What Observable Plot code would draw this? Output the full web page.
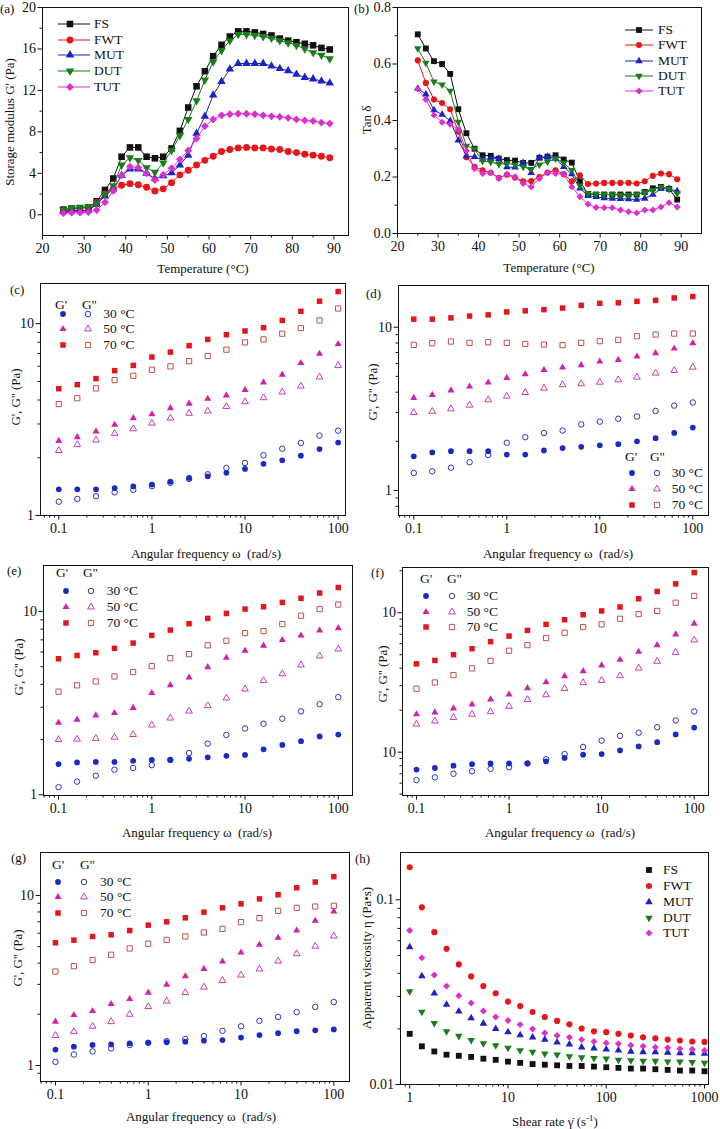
<!DOCTYPE html>
<html><head><meta charset="utf-8">
<script src="https://cdn.jsdelivr.net/npm/d3@7"></script>
<script src="https://cdn.jsdelivr.net/npm/@observablehq/plot@0.6"></script>
<style>
body{margin:0;background:#fff;}
#fig{position:relative;width:720px;height:1129px;overflow:hidden;background:#fff;}
</style></head><body><div id="fig"></div>
<script>
// ---------------- DATA ----------------
const samples = ["FS", "FWT", "MUT", "DUT", "TUT"];
const temperature = [25,27,29,31,33,35,37,39,41,43,45,47,49,51,53,55,57,59,61,63,65,67,69,71,73,75,77,79,81,83,85,87,89];
const modFS  = [0.5,0.6,0.65,0.7,1.3,2.4,3.5,5.6,6.5,6.5,5.6,5.45,5.6,6.4,8.1,10.35,12.4,13.85,15.3,16.4,17.2,17.7,17.7,17.6,17.45,17.3,17.0,16.8,16.65,16.5,16.35,16.1,15.95];
const modFWT = [0.3,0.35,0.35,0.4,1.2,2.0,2.5,2.85,3.0,2.9,2.65,2.3,2.5,3.1,3.85,4.3,4.8,5.25,5.65,6.1,6.3,6.45,6.5,6.45,6.45,6.35,6.3,6.1,6.0,5.85,5.75,5.65,5.5];
const modMUT = [0.35,0.4,0.4,0.4,1.0,1.8,2.5,3.8,4.4,4.4,4.0,3.5,3.75,4.05,4.8,5.75,7.85,9.5,11.55,12.85,14.05,14.6,14.6,14.6,14.6,14.35,14.1,13.9,13.55,13.25,13.1,12.9,12.7];
const modDUT = [0.5,0.65,0.7,0.8,1.05,2.0,2.8,4.8,5.5,5.25,4.55,4.1,5.0,6.2,7.65,9.2,11.0,13.0,14.75,15.85,16.8,17.4,17.4,17.3,17.2,17.05,16.8,16.6,16.35,16.0,15.65,15.4,15.05];
const modTUT = [0.15,0.2,0.2,0.25,0.45,1.2,2.3,3.8,4.65,4.55,4.0,3.35,3.85,4.5,5.35,6.2,7.35,8.55,9.2,9.6,9.7,9.75,9.75,9.7,9.6,9.5,9.45,9.35,9.2,9.1,9.05,8.9,8.8];

const tanFS  = [0.705,0.655,0.61,0.6,0.565,0.44,0.355,0.3,0.277,0.275,0.265,0.26,0.258,0.25,0.25,0.268,0.272,0.277,0.262,0.251,0.185,0.14,0.138,0.138,0.138,0.138,0.138,0.138,0.147,0.16,0.165,0.158,0.12];
const tanFWT = [0.613,0.533,0.474,0.462,0.44,0.36,0.27,0.236,0.224,0.215,0.197,0.208,0.198,0.185,0.186,0.2,0.216,0.224,0.21,0.185,0.206,0.175,0.177,0.179,0.179,0.179,0.179,0.177,0.185,0.204,0.212,0.21,0.192];
const tanMUT = [0.513,0.493,0.437,0.421,0.399,0.33,0.274,0.271,0.262,0.265,0.265,0.235,0.234,0.25,0.215,0.269,0.271,0.265,0.236,0.21,0.16,0.133,0.13,0.125,0.124,0.123,0.122,0.12,0.124,0.138,0.158,0.158,0.15];
const tanDUT = [0.655,0.604,0.537,0.527,0.505,0.395,0.31,0.299,0.257,0.253,0.245,0.248,0.244,0.236,0.228,0.244,0.254,0.265,0.25,0.224,0.169,0.142,0.139,0.138,0.138,0.136,0.136,0.138,0.145,0.153,0.165,0.157,0.142];
const tanTUT = [0.511,0.474,0.419,0.394,0.387,0.368,0.293,0.23,0.212,0.215,0.195,0.21,0.2,0.177,0.165,0.195,0.215,0.212,0.21,0.165,0.13,0.104,0.092,0.091,0.091,0.083,0.077,0.073,0.083,0.083,0.094,0.109,0.094];

const frequency = [0.1,0.158,0.251,0.398,0.631,1,1.58,2.51,3.98,6.31,10,15.8,25.1,39.8,63.1,100];
const temps3 = ["30 °C", "50 °C", "70 °C"];
// (c)
const cG1_30 = [1.37,1.37,1.37,1.39,1.42,1.45,1.50,1.57,1.60,1.67,1.75,1.86,1.94,2.05,2.22,2.40];
const cG2_30 = [1.18,1.22,1.26,1.32,1.36,1.42,1.48,1.55,1.64,1.77,1.88,2.06,2.23,2.39,2.61,2.77];
const cG1_50 = [2.45,2.56,2.74,2.97,3.22,3.37,3.63,3.83,4.06,4.23,4.51,4.94,5.42,6.24,6.97,7.83];
const cG2_50 = [2.18,2.34,2.47,2.68,2.83,3.03,3.22,3.41,3.50,3.70,3.92,4.11,4.40,4.73,5.27,6.04];
const cG1_70 = [4.58,4.81,5.17,5.69,6.06,6.70,7.11,7.68,8.28,8.76,9.16,9.53,10.4,11.6,13.1,14.7];
const cG2_70 = [3.81,4.09,4.60,5.08,5.35,5.75,5.99,6.38,6.78,7.32,7.99,8.28,8.87,9.49,10.4,12.0];
// (d)
const dG1_30 = [1.62,1.71,1.74,1.74,1.74,1.66,1.66,1.76,1.82,1.85,1.89,1.92,2.00,2.09,2.25,2.43];
const dG2_30 = [1.28,1.31,1.38,1.49,1.65,1.96,2.12,2.25,2.33,2.54,2.64,2.75,2.84,3.07,3.31,3.46];
const dG1_50 = [3.69,3.85,4.10,4.33,4.58,4.89,5.15,5.48,5.66,5.85,6.16,6.31,6.61,6.93,7.40,7.98];
const dG2_50 = [3.00,3.05,3.16,3.33,3.59,3.78,3.98,4.23,4.44,4.50,4.60,4.76,4.94,5.23,5.43,5.69];
const dG1_70 = [11.2,11.2,11.4,11.7,11.9,12.4,12.6,12.8,13.1,13.6,14.0,14.1,14.4,14.6,15.1,15.4];
const dG2_70 = [7.79,7.98,8.17,8.02,8.09,8.02,7.90,7.83,7.76,8.02,8.21,8.36,8.81,9.02,9.14,9.14];
// (e)
const eG1_30 = [1.47,1.50,1.51,1.51,1.53,1.55,1.55,1.57,1.60,1.63,1.65,1.77,1.87,1.96,2.08,2.13];
const eG2_30 = [1.10,1.18,1.27,1.37,1.40,1.45,1.55,1.69,1.90,2.12,2.30,2.44,2.60,2.85,3.12,3.41];
const eG1_50 = [2.47,2.57,2.71,2.79,2.98,3.59,3.96,4.36,4.97,5.59,6.10,6.50,6.98,7.39,7.88,8.11];
const eG2_50 = [2.00,2.01,2.03,2.06,2.13,2.40,2.62,2.86,3.06,3.37,3.77,4.19,4.57,5.10,5.71,6.23];
const eG1_70 = [5.52,5.75,5.95,6.29,6.72,7.40,7.91,8.57,9.16,9.75,10.3,10.6,11.2,11.8,12.6,13.5];
const eG2_70 = [3.65,3.95,4.15,4.42,4.67,5.03,5.56,5.85,6.53,6.92,7.62,7.81,8.53,9.47,10.3,10.9];
// (f)
const fG1_30 = [0.75,0.77,0.80,0.82,0.83,0.83,0.83,0.86,0.91,0.96,0.97,1.03,1.10,1.18,1.34,1.50];
const fG2_30 = [0.63,0.66,0.70,0.73,0.76,0.78,0.83,0.89,0.97,1.09,1.21,1.31,1.38,1.51,1.69,1.96];
const fG1_50 = [1.87,1.93,2.06,2.20,2.39,2.59,2.88,3.18,3.51,3.81,4.19,4.60,5.25,5.86,6.99,8.34];
const fG2_50 = [1.59,1.67,1.77,1.87,1.95,2.13,2.38,2.58,2.86,3.15,3.27,3.53,4.01,4.48,5.19,6.37];
const fG1_70 = [4.30,4.55,5.00,5.52,6.20,6.80,7.47,8.25,8.91,9.68,10.3,11.0,12.6,14.2,16.1,19.4];
const fG2_70 = [2.85,3.16,3.57,3.99,4.52,5.34,5.86,6.58,7.18,7.89,8.25,9.05,9.78,10.3,11.8,13.2];
// (g)
const gG1_30 = [1.24,1.29,1.32,1.33,1.35,1.36,1.37,1.38,1.40,1.41,1.46,1.51,1.55,1.59,1.61,1.63];
const gG2_30 = [1.05,1.16,1.21,1.26,1.32,1.36,1.39,1.43,1.49,1.60,1.70,1.83,1.93,2.06,2.21,2.36];
const gG1_50 = [1.81,1.98,2.09,2.30,2.46,2.68,2.99,3.35,3.70,4.09,4.62,5.13,5.64,6.22,7.10,8.05];
const gG2_50 = [1.50,1.58,1.70,1.81,2.00,2.22,2.39,2.68,2.89,3.16,3.40,3.69,4.11,4.54,5.03,5.77];
const gG1_70 = [5.27,5.46,5.74,5.87,6.22,6.69,7.00,7.39,7.98,8.46,8.93,9.55,10.1,11.1,12.0,12.9];
const gG2_70 = [3.57,3.84,4.17,4.48,4.88,5.20,5.48,5.74,6.06,6.36,6.97,7.36,8.12,8.46,8.61,8.69];
// (h)
const shearRate = [1,1.33,1.78,2.37,3.16,4.22,5.62,7.5,10,13.3,17.8,23.7,31.6,42.2,56.2,75,100,133,178,237,316,422,562,750,1000];
const viscFS  = [0.0188,0.0161,0.0151,0.0145,0.0143,0.0141,0.0138,0.0136,0.0133,0.0131,0.0129,0.0128,0.0127,0.0126,0.0126,0.0125,0.0124,0.0123,0.0122,0.0122,0.0121,0.0120,0.0119,0.0119,0.0118];
const viscFWT = [0.150,0.0912,0.0668,0.0543,0.0447,0.0385,0.0341,0.0312,0.0281,0.0266,0.0247,0.0232,0.0221,0.0212,0.0201,0.0194,0.0192,0.0188,0.0184,0.0180,0.0178,0.0175,0.0173,0.0171,0.0170];
const viscMUT = [0.0554,0.0386,0.0312,0.0271,0.0249,0.0229,0.0214,0.0200,0.0192,0.0185,0.0180,0.0175,0.0169,0.0165,0.0159,0.0157,0.0155,0.0153,0.0151,0.0150,0.0150,0.0149,0.0148,0.0148,0.0147];
const viscDUT = [0.0319,0.0247,0.0215,0.0194,0.0183,0.0174,0.0167,0.0163,0.0158,0.0153,0.0150,0.0147,0.0145,0.0142,0.0140,0.0139,0.0138,0.0136,0.0135,0.0134,0.0134,0.0133,0.0133,0.0132,0.0131];
const viscTUT = [0.0682,0.0485,0.0392,0.0341,0.0302,0.0276,0.0250,0.0232,0.0222,0.0211,0.0200,0.0190,0.0184,0.0180,0.0175,0.0171,0.0168,0.0166,0.0163,0.0161,0.0159,0.0158,0.0156,0.0155,0.0153];

// tick values / labels
const tempTicks = [20,30,40,50,60,70,80,90];
const tempMinor = [25,35,45,55,65,75,85];
const modLinTicks = [0,4,8,12,16,20];
const modLinMinor = [2,6,10,14,18];
const tanTicks = [0,0.2,0.4,0.6,0.8];
const tanTickLabels = ["0.0","0.2","0.4","0.6","0.8"];
const tanMinor = [0.1,0.3,0.5,0.7];
const freqTicks = [0.1,1,10,100];
const freqTickLabels = ["0.1","1","10","100"];
const modLogTicks = [1,10];
const modLogTickLabels = ["1","10"];
const fModLogTickLabels = ["10","10"];
const shearTicks = [1,10,100,1000];
const shearTickLabels = ["1","10","100","1000"];
const viscTicks = [0.01,0.1];
const viscTickLabels = ["0.01","0.1"];

// ---------------- STYLE ----------------
const serif = '"Liberation Serif","Times New Roman",Times,serif';
const sampleColors = ["#111111","#e8161b","#1c23c2","#197d19","#dc2fd0"];
const sampleSymbols = ["square","circle","triangle","triangleDown","diamond"];
const tempColors = ["#1a2bc4","#cf21b0","#e3161c"];
const tempOpenColors = ["#2a35b8","#c43fb0","#c0504d"];
const tempSymbols = ["circle","triangle","square"];

const s3 = Math.sqrt(3);
const triangleDown = {draw(ctx, size){ const y = -Math.sqrt(size/(3*s3)); ctx.moveTo(0, -2*y); ctx.lineTo(-s3*y, y); ctx.lineTo(s3*y, y); ctx.closePath(); }};
const SYM = {square: d3.symbolSquare, circle: d3.symbolCircle, triangle: d3.symbolTriangle, triangleDown, diamond: d3.symbolDiamond2};
const symR = {square: 1, circle: 0.93, triangle: 0.85, triangleDown: 0.85, diamond: 0.95};

const fig = document.getElementById("fig");

function txt(html, x, y, o = {}) {
  const d = document.createElement("div");
  d.innerHTML = html;
  const size = o.size || 13;
  d.style.cssText = `position:absolute;left:${x}px;top:${y}px;font-size:${size}px;line-height:1;white-space:nowrap;font-family:${serif};color:#111;`;
  const ax = o.anchor === "middle" ? "-50%" : o.anchor === "end" ? "-100%" : "0";
  d.style.transform = o.rotate ? "translate(-50%,-50%) rotate(-90deg)" : `translate(${ax},-50%)`;
  fig.appendChild(d);
}

function legendSym(x, y, shape, r, fill, stroke, line) {
  const area = Math.PI * r * r;
  const d = d3.symbol(SYM[shape], area)();
  let inner = "";
  if (line) inner += `<line x1="${line[0] - x}" x2="${line[1] - x}" y1="0" y2="0" stroke="${line[2]}" stroke-width="1"/>`;
  inner += `<path d="${d}" fill="${fill}" stroke="${stroke}" stroke-width="1"/>`;
  const svg = document.createElementNS("http://www.w3.org/2000/svg", "svg");
  svg.setAttribute("width", 1); svg.setAttribute("height", 1);
  svg.style.cssText = `position:absolute;left:${x}px;top:${y}px;overflow:visible`;
  svg.innerHTML = inner;
  fig.appendChild(svg);
}

function minorLog(lo, hi) {
  const out = [];
  for (let e = -3; e <= 3; e++) for (let k = 2; k <= 9; k++) {
    const v = +(k * Math.pow(10, e)).toPrecision(2);
    if (v > lo && v < hi) out.push(v);
  }
  return out;
}

function panel(cfg) {
  const {box, frame, x, y, marks} = cfg;
  const fmt = (vals, labels) => labels ? (d => labels[vals.indexOf(d)] ?? "") : (d => String(d));
  const plot = Plot.plot({
    width: box.w, height: box.h,
    marginLeft: frame.l - box.x, marginRight: box.x + box.w - frame.r,
    marginTop: frame.t - box.y, marginBottom: box.y + box.h - frame.b,
    style: {fontFamily: serif, fontSize: "14px", color: "#111", background: "none", overflow: "visible"},
    x: {type: x.type, domain: x.domain},
    y: {type: y.type, domain: y.domain},
    marks: [
      Plot.axisX({ticks: x.minor, tickSize: 2.5, tickFormat: () => "", label: null}),
      Plot.axisX({ticks: x.major, tickSize: 4.5, tickPadding: 3, tickFormat: fmt(x.major, x.labels), label: null}),
      Plot.axisY({ticks: y.minor, tickSize: 2.5, tickFormat: () => "", label: null}),
      Plot.axisY({ticks: y.major, tickSize: 4.5, tickPadding: 2, tickFormat: fmt(y.major, y.labels), label: null}),
      ...marks,
      Plot.frame({stroke: "#111", strokeWidth: 1})
    ]
  });
  plot.style.position = "absolute";
  plot.style.left = box.x + "px";
  plot.style.top = box.y + "px";
  fig.appendChild(plot);
}

function boxFor(frame, col) { const y0 = Math.max(0, frame.t - 8); return {x: col * 360, y: y0, w: 360, h: frame.b + 27 - y0}; }

// ---------- (a) and (b): temperature sweeps ----------
function sweepMarks(arrays, r) {
  const out = [];
  arrays.forEach((arr, i) => {
    const rows = temperature.map((t, j) => ({t, v: arr[j]}));
    out.push(Plot.line(rows, {x: "t", y: "v", stroke: sampleColors[i], strokeWidth: 1}));
    out.push(Plot.dot(rows, {x: "t", y: "v", symbol: SYM[sampleSymbols[i]], fill: sampleColors[i], r: r * symR[sampleSymbols[i]]}));
  });
  return out;
}

const frameA = {l: 42, r: 348, t: 7, b: 235};
panel({box: boxFor(frameA, 0), frame: frameA,
  x: {type: "linear", domain: [20, 93.5], major: tempTicks, minor: tempMinor},
  y: {type: "linear", domain: [-2, 20], major: modLinTicks, minor: modLinMinor},
  marks: sweepMarks([modFS, modFWT, modMUT, modDUT, modTUT], 3.7)});

const frameB = {l: 397, r: 701, t: 7, b: 233};
panel({box: boxFor(frameB, 1), frame: frameB,
  x: {type: "linear", domain: [20, 95], major: tempTicks, minor: tempMinor},
  y: {type: "linear", domain: [0, 0.8], major: tanTicks, minor: tanMinor, labels: tanTickLabels},
  marks: sweepMarks([tanFS, tanFWT, tanMUT, tanDUT, tanTUT], 3.3)});

// ---------- (c)-(g): frequency sweeps ----------
function freqMarks(sets, r) {
  const out = [];
  sets.forEach(([g1, g2], i) => {
    const sh = tempSymbols[i];
    const rows1 = frequency.map((w, j) => ({w, v: g1[j]}));
    const rows2 = frequency.map((w, j) => ({w, v: g2[j]}));
    out.push(Plot.dot(rows2, {x: "w", y: "v", symbol: SYM[sh], fill: "none", stroke: tempOpenColors[i], strokeWidth: 1, r: r * symR[sh] * 0.95}));
    out.push(Plot.dot(rows1, {x: "w", y: "v", symbol: SYM[sh], fill: tempColors[i], r: r * symR[sh]}));
  });
  return out;
}

const freqPanels = [
  {frame: {l: 40, r: 345, t: 283, b: 515}, col: 0, xd: [0.0636, 120], yd: [1, 16.2], sets: [[cG1_30, cG2_30], [cG1_50, cG2_50], [cG1_70, cG2_70]]},
  {frame: {l: 398, r: 708, t: 285, b: 515}, col: 1, xd: [0.0685, 147.5], yd: [0.703, 18.0], sets: [[dG1_30, dG2_30], [dG1_50, dG2_50], [dG1_70, dG2_70]]},
  {frame: {l: 43, r: 352, t: 565, b: 795}, col: 0, xd: [0.069, 142], yd: [0.991, 17.8], sets: [[eG1_30, eG2_30], [eG1_50, eG2_50], [eG1_70, eG2_70]]},
  {frame: {l: 402, r: 708, t: 567, b: 795}, col: 1, xd: [0.0706, 142.7], yd: [0.489, 21.1], sets: [[fG1_30, fG2_30], [fG1_50, fG2_50], [fG1_70, fG2_70]], ylabels: fModLogTickLabels},
  {frame: {l: 40, r: 349, t: 852, b: 1081}, col: 0, xd: [0.069, 147.6], yd: [0.805, 17.9], sets: [[gG1_30, gG2_30], [gG1_50, gG2_50], [gG1_70, gG2_70]]}
];
for (const p of freqPanels) {
  panel({box: boxFor(p.frame, p.col), frame: p.frame,
    x: {type: "log", domain: p.xd, major: freqTicks, minor: minorLog(p.xd[0], p.xd[1]), labels: freqTickLabels},
    y: {type: "log", domain: p.yd, major: modLogTicks, minor: minorLog(p.yd[0], p.yd[1]), labels: p.ylabels || modLogTickLabels},
    marks: freqMarks(p.sets, 3.1)});
}

// ---------- (h): flow curves ----------
const frameH = {l: 400, r: 708, t: 852, b: 1084};
const hMarks = [viscFS, viscFWT, viscMUT, viscDUT, viscTUT].map((arr, i) => {
  const rows = shearRate.map((g, j) => ({g, v: arr[j]}));
  return Plot.dot(rows, {x: "g", y: "v", symbol: SYM[sampleSymbols[i]], fill: sampleColors[i], r: 3.3 * symR[sampleSymbols[i]]});
});
panel({box: {x: 360, y: 844, w: 360, h: 1111 - 844}, frame: frameH,
  x: {type: "log", domain: [0.806, 1098], major: shearTicks, minor: minorLog(0.806, 1098), labels: shearTickLabels},
  y: {type: "log", domain: [0.01, 0.1804], major: viscTicks, minor: minorLog(0.01, 0.1804), labels: viscTickLabels},
  marks: hMarks});

// ---------------- TEXT: panel letters & axis titles ----------------
txt("(a)", 0, 8); txt("(b)", 354, 8); txt("(c)", 10, 289); txt("(d)", 366, 293);
txt("(e)", 7, 570); txt("(f)", 371, 572); txt("(g)", 11, 857); txt("(h)", 355, 858);

txt("Temperature (°C)", 203, 268, {anchor: "middle"});
txt("Temperature (°C)", 549, 267, {anchor: "middle"});
txt("Storage modulus G' (Pa)", 9, 122, {rotate: true});
txt("Tan δ", 366, 120, {rotate: true});
const freqTitle = "Angular frequency ω&nbsp;&nbsp;(rad/s)";
const gTitle = "G', G'' (Pa)";
txt(freqTitle, 206, 553, {anchor: "middle"});
txt(freqTitle, 558, 553, {anchor: "middle"});
txt(freqTitle, 197, 832, {anchor: "middle"});
txt(freqTitle, 560, 832, {anchor: "middle"});
txt(freqTitle, 201, 1116, {anchor: "middle"});
txt(gTitle, 15, 397, {rotate: true});
txt(gTitle, 372, 392, {rotate: true});
txt(gTitle, 18, 667, {rotate: true});
txt(gTitle, 382, 674, {rotate: true});
txt(gTitle, 17, 958, {rotate: true});
txt("Apparent viscosity η (Pa•s)", 366, 958, {rotate: true});
txt("Shear rate γ&#775; (s<sup style='font-size:9px'>-1</sup>)", 555, 1121, {anchor: "middle"});

// ---------------- LEGENDS ----------------
// (a)
[24, 39.5, 55, 70.7, 87].forEach((yy, i) => {
  legendSym(70, yy, sampleSymbols[i], 3.7 * symR[sampleSymbols[i]], sampleColors[i], "none", [58, 90, sampleColors[i]]);
  txt(samples[i], 94, yy, {size: 13.5});
});
// (b)
[30, 45, 60.7, 76, 91].forEach((yy, i) => {
  legendSym(639, yy, sampleSymbols[i], 3.3 * symR[sampleSymbols[i]], sampleColors[i], "none", [625, 653, sampleColors[i]]);
  txt(samples[i], 658, yy, {size: 13.5});
});
// (h)
[870, 886, 901.7, 917.7, 933.3].forEach((yy, i) => {
  legendSym(649.3, yy, sampleSymbols[i], 3.3 * symR[sampleSymbols[i]], sampleColors[i], "none");
  txt(samples[i], 663, yy, {size: 13.5});
});
// frequency legends
const freqLegends = [
  {hy: 305, g1x: 55, g2x: 82, fx: 62.7, ox: 88.3, tx: 103.3, rows: [314, 329.3, 345]},
  {hy: 456.7, g1x: 625, g2x: 650, fx: 631.7, ox: 656.7, tx: 671.7, rows: [472.7, 489, 505]},
  {hy: 573, g1x: 56, g2x: 83, fx: 65.7, ox: 90.7, tx: 106.7, rows: [590.7, 606.7, 623.3]},
  {hy: 579, g1x: 420, g2x: 447, fx: 426, ox: 451.7, tx: 466.7, rows: [595.7, 611.7, 626.7]},
  {hy: 865, g1x: 52, g2x: 80, fx: 57.7, ox: 84, tx: 100, rows: [882.3, 897.3, 912.7]}
];
for (const L of freqLegends) {
  txt("G'", L.g1x, L.hy, {size: 13.5});
  txt("G''", L.g2x, L.hy, {size: 13.5});
  L.rows.forEach((yy, i) => {
    const sh = tempSymbols[i];
    legendSym(L.fx, yy, sh, 3.1 * symR[sh], tempColors[i], "none");
    legendSym(L.ox, yy, sh, 3.1 * symR[sh] * 0.95, "none", tempOpenColors[i]);
    txt(temps3[i], L.tx, yy, {size: 13.5});
  });
}
</script></body></html>
